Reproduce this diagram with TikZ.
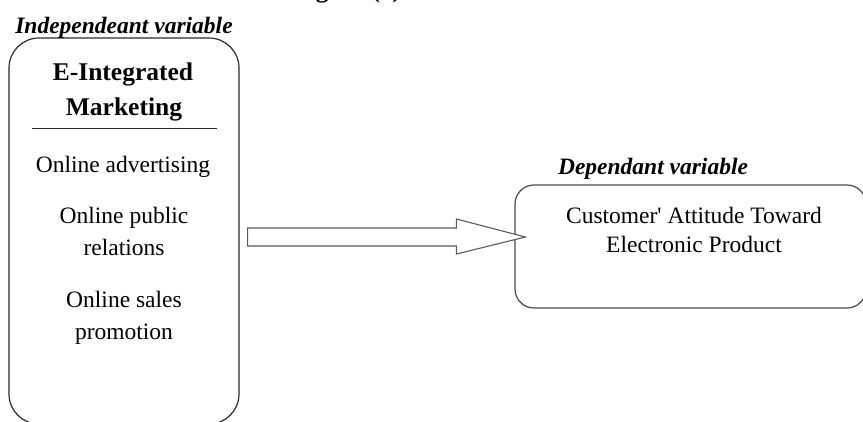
\documentclass[tikz,border=0pt]{standalone}
\usepackage{fontspec}
\setmainfont{Liberation Serif}
\usetikzlibrary{calc}
\definecolor{boxline}{HTML}{2A2A2A}
\definecolor{dvline}{HTML}{4A4A4A}
\definecolor{arrline}{HTML}{5A5A5A}
\tikzset{
  lbl/.style={anchor=base, inner sep=0pt, font=\fontsize{23.5}{28}\selectfont},
  hdr/.style={anchor=base, inner sep=0pt, font=\fontsize{25.5}{30}\selectfont\bfseries},
  vartitle/.style={anchor=base, inner sep=0pt, font=\fontsize{23.5}{28}\selectfont\bfseries\itshape},
  ivstyle/.style={draw=boxline, line width=1.2pt, rounded corners=30pt, inner sep=0pt},
  dvstyle/.style={draw=dvline, line width=1.2pt, rounded corners=19pt, inner sep=0pt},
  bigarrow/.style={draw=arrline, line width=1.1pt, fill=white, line join=miter}
}
\begin{document}
\begin{tikzpicture}[x=1pt,y=-1pt]
\useasboundingbox (0,0) rectangle (863,421);
\begin{scope}
\clip (0,0) rectangle (863,421);
\node[inner sep=0pt, anchor=base west, font=\fontsize{25.5}{30}\selectfont\bfseries] (fig) at (293,-3) {Figure (1)};
\node[ivstyle, minimum width=230pt, minimum height=386pt] (ivbox) at (124,231) {};
\node[dvstyle, minimum width=351pt, minimum height=123pt] (dvbox) at (690.5,246.5) {};
\end{scope}
\node[vartitle] (ivtitle) at (124,33) {Independeant variable};
\node[hdr] (h1) at (123,80) {E-Integrated};
\node[hdr] (h2) at (124,115) {Marketing};
\coordinate (rl) at (32,128);
\coordinate (rr) at (217,128);
\draw[draw=boxline, line width=1pt] (rl) -- (rr);
\node[lbl] (i1) at (123,172) {Online advertising};
\node[lbl] (i2a) at (124,223) {Online public};
\node[lbl] (i2b) at (124,255) {relations};
\node[lbl] (i3a) at (124,307) {Online sales};
\node[lbl] (i3b) at (124,339) {promotion};
\node[vartitle] (dvtitle) at (653,174) {Dependant variable};
\node[lbl] (d1) at (694,223) {Customer\textquotesingle{} Attitude Toward};
\node[lbl] (d2) at (694,252) {Electronic Product};
% block arrow from the left box to the right box
\coordinate (as) at ($(ivbox.east |- 0,237)+(8,0)$);
\coordinate (at) at ($(dvbox.west |- 0,237)+(11,0)$);
\coordinate (ah) at ($(at)+(-69,0)$);
\draw[bigarrow] ($(as)+(0,-9)$) -- ($(ah)+(0,-9)$) -- ($(ah)+(0,-18)$) -- (at)
  -- ($(ah)+(0,17)$) -- ($(ah)+(0,9)$) -- ($(as)+(0,9)$) -- cycle;
\end{tikzpicture}
\end{document}
